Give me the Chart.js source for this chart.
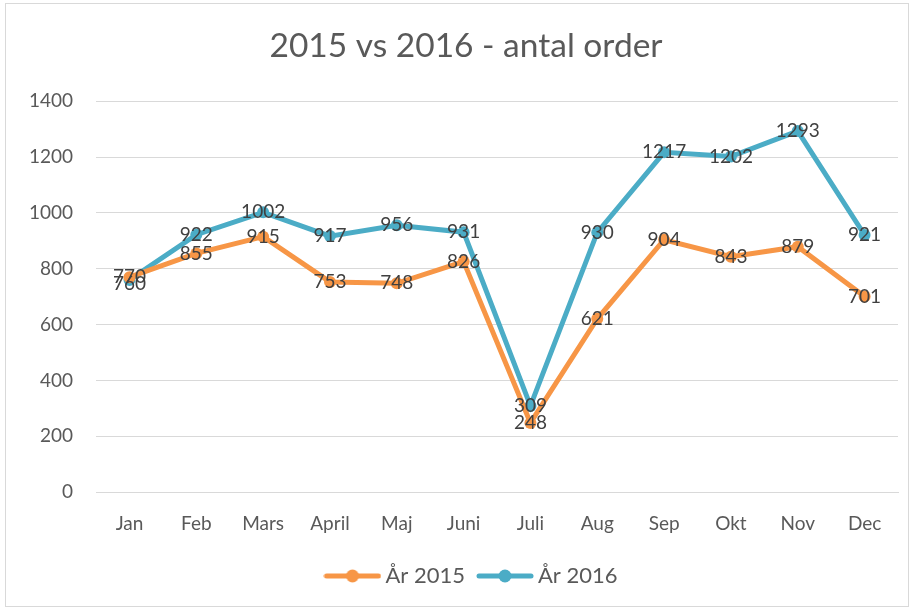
<!DOCTYPE html>
<html>
<head>
    <title>2015 vs 2016 - antal order</title>
    <style>
        body { margin: 0; background: #fff; }
        #wrap {
            position: absolute; left: 5px; top: 3px;
            width: 904px; height: 604px;
            border: 1px solid #d9d9d9; box-sizing: border-box;
        }
    </style>
    <script src="https://cdn.jsdelivr.net/npm/chart.js"></script>
</head>
<body>
<div id="wrap"><canvas id="orderChart"></canvas></div>
<script>
    var months = ["Jan", "Feb", "Mars", "April", "Maj", "Juni", "Juli", "Aug", "Sep", "Okt", "Nov", "Dec"];
    var orders2015 = [770, 855, 915, 753, 748, 826, 248, 621, 904, 843, 879, 701];
    var orders2016 = [760, 922, 1002, 917, 956, 931, 309, 930, 1217, 1202, 1293, 921];
    var yTicks = [0, 200, 400, 600, 800, 1000, 1200, 1400];

    var ORANGE = "#F79646";
    var BLUE = "#4BACC6";
    var FONT = "Lato, 'Open Sans', sans-serif";

    // legend symbol: line with a dot, like Excel
    function legendMark(color) {
        var c = document.createElement("canvas");
        c.width = 58; c.height = 14;
        var ctx = c.getContext("2d");
        ctx.strokeStyle = color;
        ctx.lineWidth = 5;
        ctx.lineCap = "round";
        ctx.beginPath();
        ctx.moveTo(3, 7); ctx.lineTo(55, 7);
        ctx.stroke();
        ctx.fillStyle = color;
        ctx.beginPath();
        ctx.arc(29, 7, 6.5, 0, Math.PI * 2);
        ctx.fill();
        return c;
    }

    // simple data labels centred on each point
    var valueLabels = {
        id: "valueLabels",
        afterDatasetsDraw: function (chart) {
            var ctx = chart.ctx;
            ctx.save();
            ctx.font = "19px " + FONT;
            ctx.fillStyle = "#404040";
            ctx.textAlign = "center";
            ctx.textBaseline = "middle";
            chart.data.datasets.forEach(function (ds, i) {
                var meta = chart.getDatasetMeta(i);
                meta.data.forEach(function (pt, j) {
                    var off = 0;
                    if (j === 0 && i === 1) off = 4;
                    ctx.fillText(ds.data[j], pt.x, pt.y + off);
                });
            });
            ctx.restore();
        }
    };

    // Excel centres title and legend a bit right of the canvas middle
    var nudge = {
        id: "nudge",
        afterLayout: function (chart) {
            if (chart.titleBlock) { chart.titleBlock.left += 14; chart.titleBlock.right += 14; }
            if (chart.legend) { chart.legend.left += 22; chart.legend.right += 22; }
        }
    };

    new Chart(document.getElementById("orderChart"), {
        type: "line",
        data: {
            labels: months,
            datasets: [{
                label: "År 2015",
                data: orders2015,
                borderColor: ORANGE,
                backgroundColor: ORANGE,
                borderWidth: 5,
                pointRadius: 6,
                pointBorderWidth: 0,
                tension: 0,
                fill: false
            }, {
                label: "År 2016",
                data: orders2016,
                borderColor: BLUE,
                backgroundColor: BLUE,
                borderWidth: 5,
                pointRadius: 6,
                pointBorderWidth: 0,
                tension: 0,
                fill: false
            }]
        },
        options: {
            responsive: true,
            maintainAspectRatio: false,
            animation: false,
            layout: { padding: { left: 0, right: 10, top: 8, bottom: 9 } },
            plugins: {
                title: {
                    display: true,
                    text: "2015 vs 2016 - antal order",
                    color: "#595959",
                    font: { family: FONT, size: 33.5, weight: "normal" },
                    padding: { top: 14, bottom: 35 }
                },
                legend: {
                    position: "bottom",
                    labels: {
                        usePointStyle: true,
                        pointStyleWidth: 44,
                        color: "#595959",
                        font: { family: FONT, size: 22 },
                        padding: 18,
                        generateLabels: function (chart) {
                            return chart.data.datasets.map(function (ds, i) {
                                return {
                                    text: ds.label,
                                    pointStyle: legendMark(ds.borderColor),
                                    fontColor: "#595959",
                                    datasetIndex: i,
                                    lineWidth: 0,
                                    strokeStyle: ds.borderColor,
                                    fillStyle: ds.borderColor
                                };
                            });
                        }
                    }
                },
                tooltip: { enabled: false }
            },
            scales: {
                x: {
                    offset: true,
                    grid: { display: false, offset: true },
                    border: { color: "#d9d9d9", width: 1 },
                    ticks: { color: "#595959", font: { family: FONT, size: 19 }, padding: 12 }
                },
                y: {
                    min: 0,
                    max: 1400,
                    afterBuildTicks: function (axis) {
                        axis.ticks = yTicks.map(function (v) { return { value: v }; });
                    },
                    grid: { color: "#d9d9d9", lineWidth: 1, drawTicks: false },
                    border: { display: false },
                    ticks: {
                        color: "#595959",
                        font: { family: FONT, size: 19 },
                        padding: 23,
                        callback: function (v) { return String(v); }
                    }
                }
            }
        },
        plugins: [valueLabels, nudge]
    });
</script>
</body>
</html>
